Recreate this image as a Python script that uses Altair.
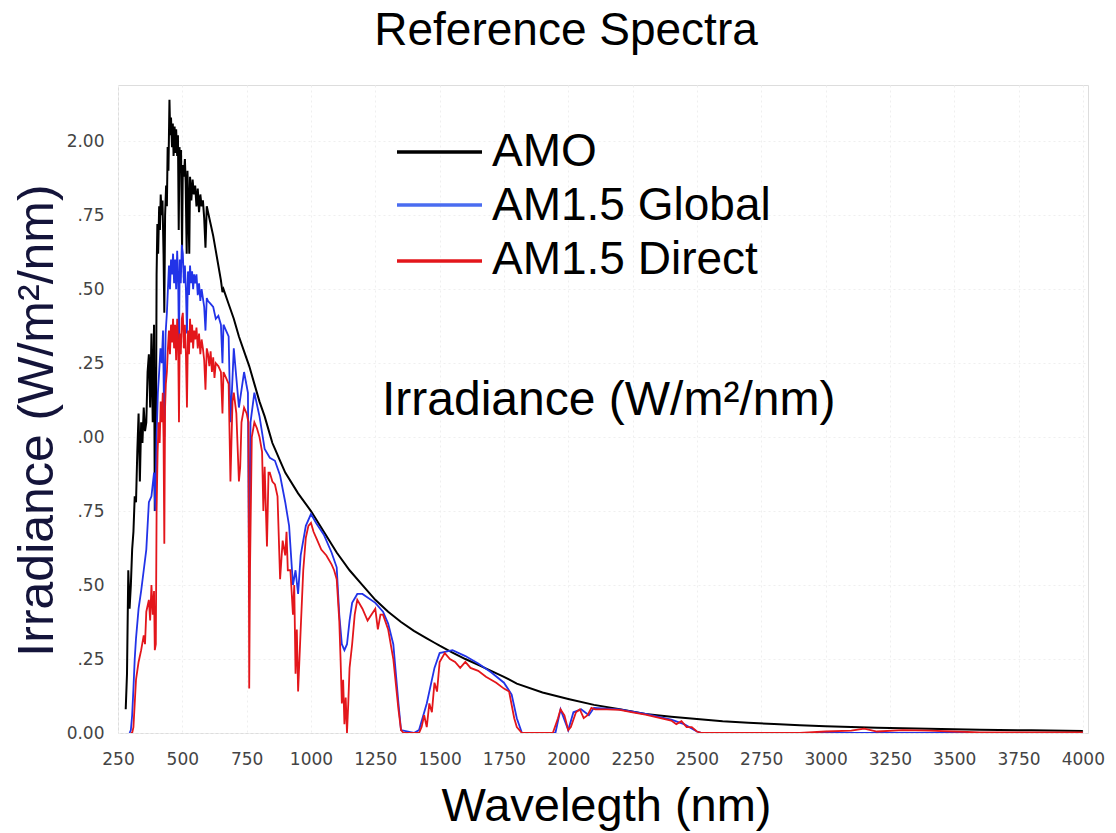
import altair as alt
import pandas as pd

# ---------------- data ----------------
x_ticks = [250, 500, 750, 1000, 1250, 1500, 1750, 2000, 2250, 2500,
           2750, 3000, 3250, 3500, 3750, 4000]
y_ticks = [0, 0.25, 0.5, 0.75, 1.0, 1.25, 1.5, 1.75, 2.0]

series_names = ["AMO", "AM1.5 Global", "AM1.5 Direct"]
series_colors = ["#000000", "#2233e8", "#e3161b"]
legend_colors = ["#000000", "#4a6cf0", "#e3161b"]

# AM0 (extraterrestrial)
wl_am0 = [280, 285, 290, 295, 300, 305, 310, 315, 320, 325, 330, 335, 340, 345,
          350, 355, 360, 365, 370, 375, 380, 385, 390, 393, 397,
          400, 403, 406, 410, 413, 416, 420, 423, 427, 430, 433, 437, 440, 443,
          446, 450, 453, 456, 460, 463, 466, 470, 473, 476, 480, 483, 486, 489,
          492, 495, 499, 502, 506, 510, 513, 517, 520, 523, 527, 530, 535, 540,
          545, 550, 555, 560, 565, 570, 575, 580, 585, 590, 595, 600, 610, 620,
          630, 640, 650, 656, 660, 680, 700, 720, 740, 760, 780, 800, 820, 840,
          850, 860, 880, 900, 950, 1000, 1050, 1100, 1150, 1200, 1250, 1300,
          1350, 1400, 1450, 1480, 1500, 1550, 1600, 1650, 1700, 1750, 1800,
          1900, 2000, 2100, 2200, 2300, 2400, 2500, 2600, 2700, 2800, 2900,
          3000, 3200, 3400, 3600, 3800, 4000]
am0 = [0.08, 0.20, 0.55, 0.42, 0.50, 0.62, 0.68, 0.80, 0.78, 0.95, 1.08, 0.85,
       1.05, 0.98, 1.10, 1.02, 1.05, 1.22, 1.28, 1.10, 1.35, 1.05, 1.38, 0.75,
       0.90,
       1.55, 1.72, 1.62, 1.78, 1.70, 1.82, 1.75, 1.80, 1.62, 1.42, 1.75, 1.85,
       1.78, 1.98, 1.90, 2.14, 2.02, 2.08, 1.98, 2.06, 1.95, 2.05, 1.96, 2.04,
       1.95, 2.02, 1.70, 1.98, 1.90, 1.97, 1.64, 1.92, 1.88, 1.94, 1.86, 1.62,
       1.90, 1.80, 1.62, 1.88, 1.80, 1.87, 1.82, 1.85, 1.78, 1.84, 1.76, 1.82,
       1.78, 1.80, 1.74, 1.64, 1.78, 1.76, 1.72, 1.68, 1.63, 1.58, 1.53, 1.49,
       1.50, 1.45, 1.40, 1.34, 1.29, 1.24, 1.18, 1.12, 1.07, 1.01, 0.98, 0.96,
       0.92, 0.88, 0.81, 0.75, 0.68, 0.61, 0.55, 0.50, 0.45, 0.41, 0.375,
       0.345, 0.32, 0.305, 0.295, 0.272, 0.25, 0.23, 0.21, 0.19, 0.167, 0.137,
       0.115, 0.095, 0.08, 0.064, 0.055, 0.047, 0.04, 0.035, 0.03, 0.026,
       0.023, 0.018, 0.014, 0.011, 0.009, 0.007]

# AM1.5 Global
wl_glob = [295, 300, 305, 310, 315, 320, 330, 340, 350, 360, 370, 380, 390, 395,
           400, 405, 410, 415, 420, 425, 430, 435,
           440, 444, 448, 452, 456, 460, 464, 468, 472, 476, 480, 484, 487, 490,
           494, 498, 502, 506, 510, 514, 518, 522, 526, 530, 534, 538, 542, 546,
           550, 555, 560, 565, 570, 575, 580, 585, 590, 595, 600, 610, 620, 630,
           640, 650, 656, 660, 670, 680, 687, 690, 700, 720,
           740, 755, 760, 765, 780, 800, 820, 840, 860, 880, 900, 915, 930, 940,
           950, 960, 980, 1000, 1020, 1050, 1080, 1100, 1110, 1120, 1130, 1140,
           1150, 1160, 1180, 1200, 1250, 1280, 1300, 1320, 1340, 1350, 1400,
           1420, 1450, 1480, 1500, 1550, 1600, 1650, 1700, 1750, 1780, 1800,
           1820, 1950, 1970, 2000, 2020, 2050, 2080, 2100, 2200, 2300, 2400,
           2450, 2500, 2520, 4000]
glob = [0.0, 0.01, 0.06, 0.15, 0.25, 0.32, 0.42, 0.48, 0.55, 0.62, 0.78, 0.80,
        0.88, 0.75,
        1.00, 1.15, 1.22, 1.30, 1.25, 1.36, 1.00, 1.35,
        1.42, 1.50, 1.58, 1.50, 1.60, 1.55, 1.62, 1.52, 1.60, 1.50, 1.63, 1.52,
        1.30, 1.60, 1.52, 1.65, 1.62, 1.52, 1.58, 1.50, 1.35, 1.56, 1.48, 1.58,
        1.52, 1.56, 1.50, 1.55, 1.52, 1.55, 1.48, 1.52, 1.46, 1.50, 1.47, 1.44,
        1.36, 1.47, 1.46, 1.45, 1.44, 1.40, 1.41, 1.38, 1.25, 1.38, 1.36, 1.34,
        1.05, 1.10, 1.30, 1.10,
        1.22, 1.15, 0.45, 1.05, 1.15, 1.07, 0.96, 0.93, 0.92, 0.87, 0.78, 0.70,
        0.50, 0.55, 0.47, 0.60, 0.70, 0.74, 0.71, 0.67, 0.61, 0.56, 0.40, 0.30,
        0.28, 0.30, 0.38, 0.44, 0.47, 0.47, 0.44, 0.41, 0.37, 0.30, 0.10, 0.01,
        0.0, 0.01, 0.10, 0.22, 0.27, 0.28, 0.26, 0.235, 0.205, 0.17, 0.13,
        0.05, 0.0, 0.0, 0.08, 0.01, 0.07, 0.08, 0.06, 0.085, 0.08, 0.065,
        0.045, 0.03, 0.005, 0.0, 0.0]

# AM1.5 Direct
wl_dir = [300, 305, 310, 315, 320, 330, 340, 350, 355, 360, 370, 375, 380, 385,
          390, 393, 397, 400, 404, 408, 412, 416, 420, 424, 427, 430, 433, 436,
          440, 444, 448, 452, 456, 460, 464, 468, 472, 476, 480, 484, 487, 490,
          494, 498, 502, 506, 510, 514, 518, 522, 526, 530, 534, 538, 542, 546,
          550, 555, 560, 565, 570, 575, 580, 585, 590, 595, 600, 605, 610, 615,
          620, 625, 630, 640, 650, 656, 660, 670, 680, 687, 690, 695, 700, 710,
          720, 725, 730, 740, 750, 757, 760, 763, 770, 780, 790, 800, 810, 815,
          820, 829, 835, 840, 850, 860, 870, 880, 890, 900, 905, 910, 920, 930,
          935, 940, 945, 950, 960, 970, 980, 990, 1000, 1010, 1020, 1040, 1060,
          1080, 1090, 1100, 1110, 1115, 1120, 1125, 1130, 1135, 1140, 1145,
          1150, 1160, 1170, 1180, 1200, 1220, 1250, 1260, 1270, 1280, 1300,
          1320, 1340, 1350, 1360, 1420, 1430, 1440, 1450, 1460, 1470, 1480,
          1490, 1500, 1520, 1540, 1560, 1580, 1600, 1620, 1650, 1680, 1700,
          1720, 1750, 1770, 1790, 1800, 1820, 1940, 1960, 1970, 1985, 2000,
          2010, 2030, 2045, 2060, 2075, 2090, 2105, 2150, 2200, 2250, 2300,
          2350, 2400, 2420, 2440, 2460, 2480, 2500, 2520, 2900, 3000, 3100,
          3150, 3200, 3300, 3400, 3500, 3600, 4000]
direct = [0.0, 0.0, 0.02, 0.10, 0.18, 0.24, 0.28, 0.33, 0.30, 0.41, 0.45, 0.38,
          0.50, 0.40, 0.48, 0.28, 0.30, 0.75, 0.95, 1.05, 0.98, 1.12, 1.05,
          1.15, 1.00, 0.64, 1.10, 1.18,
          1.22, 1.30, 1.36, 1.28, 1.38, 1.32, 1.40, 1.30, 1.38, 1.26, 1.40,
          1.30, 1.05, 1.35, 1.28, 1.40, 1.42, 1.30, 1.38, 1.28, 1.10, 1.36,
          1.28, 1.40, 1.32, 1.38, 1.30, 1.36, 1.33, 1.37, 1.30, 1.35, 1.28,
          1.33, 1.30, 1.26, 1.16, 1.30, 1.28, 1.24, 1.29, 1.22, 1.27, 1.20,
          1.25, 1.24, 1.22, 1.08, 1.22, 1.20, 1.18, 0.85, 0.95, 1.12, 1.15,
          1.08, 0.85, 0.90, 1.05, 1.10, 1.08, 1.05, 0.15, 0.55, 1.00, 1.05,
          1.03, 1.00, 0.95, 0.75, 0.90, 0.63, 0.88, 0.88, 0.85, 0.84, 0.80,
          0.52, 0.65, 0.60, 0.68, 0.55, 0.55, 0.40, 0.50, 0.20, 0.35, 0.14,
          0.35, 0.55, 0.66, 0.70, 0.71, 0.68, 0.66, 0.62, 0.60, 0.57, 0.55,
          0.52, 0.38, 0.25, 0.10, 0.18, 0.03, 0.12, 0.0, 0.10, 0.22, 0.30,
          0.40, 0.45, 0.42, 0.38, 0.42, 0.35, 0.40, 0.40, 0.35, 0.25, 0.08,
          0.01, 0.0, 0.0, 0.02, 0.06, 0.02, 0.10, 0.07, 0.17, 0.14, 0.24,
          0.27, 0.25, 0.24, 0.22, 0.24, 0.22, 0.21, 0.19, 0.18, 0.17, 0.15,
          0.14, 0.05, 0.02, 0.0, 0.0, 0.05, 0.08, 0.06, 0.01, 0.02, 0.07,
          0.08, 0.05, 0.06, 0.085, 0.08, 0.08, 0.078, 0.07, 0.062, 0.052,
          0.042, 0.03, 0.04, 0.02, 0.02, 0.005, 0.0, 0.0, 0.005, 0.008, 0.015,
          0.005, 0.01, 0.008, 0.005, 0.002, 0.002]

# ---------------- chart ----------------
FONT = "Liberation Sans"

def frame(wl, vals, name):
    return pd.DataFrame({"wavelength": wl, "irradiance": vals, "series": name})

x_enc = alt.X(
    "wavelength:Q",
    scale=alt.Scale(domain=[250, 4020], nice=False, zero=False),
    axis=alt.Axis(
        values=x_ticks, format="d", title="Wavelegth (nm)", ticks=False,
        domain=False,
        labelFont="DejaVu Sans", labelFontSize=17, labelColor="#444444",
        labelPadding=18, labelFlush=False,
        titleFont=FONT, titleFontSize=47, titleFontWeight="normal",
        titleColor="#000000", titleX=488, titleY=87,
        titleBaseline="alphabetic", titleAlign="center",
        grid=True, gridColor="#efefef", gridDash=[2, 3],
    ),
)
y_enc = alt.Y(
    "irradiance:Q",
    scale=alt.Scale(domain=[0, 2.19], nice=False, zero=True),
    axis=alt.Axis(
        values=y_ticks, title="Irradiance (W/m²/nm)", ticks=False, domain=False,
        labelFont="DejaVu Sans", labelFontSize=17, labelColor="#444444",
        labelPadding=14,
        labelExpr="datum.value == 0 || datum.value == 2 ? format(datum.value, '.2f') : slice(format(datum.value, '.2f'), 1)",
        titleFont=FONT, titleFontSize=50, titleFontWeight="normal",
        titleColor="#14143a", titleAngle=270, titleX=-66, titleY=335,
        titleBaseline="alphabetic", titleAlign="center",
        grid=True, gridColor="#efefef", gridDash=[2, 3],
    ),
)

layers = []
for wl, vals, name, col, sw in [
        (wl_am0, am0, series_names[0], series_colors[0], 2.0),
        (wl_glob, glob, series_names[1], series_colors[1], 1.8),
        (wl_dir, direct, series_names[2], series_colors[2], 1.8)]:
    layers.append(
        alt.Chart(frame(wl, vals, name))
        .mark_line(color=col, strokeWidth=sw, clip=True)
        .encode(x=x_enc, y=y_enc, order="wavelength:Q")
    )

one = pd.DataFrame({"k": [0]})

# chart title (as text above the plot area)
layers.append(
    alt.Chart(one).mark_text(text="Reference Spectra", font=FONT, fontSize=46,
                             align="center", baseline="alphabetic",
                             color="#000000")
    .encode(x=alt.value(448), y=alt.value(-40))
)

# manual legend inside the plot
leg_y_line = [67, 120, 176]
leg_y_text = [81, 135, 189]
for i, name in enumerate(series_names):
    layers.append(
        alt.Chart(one).mark_rule(color=legend_colors[i], strokeWidth=3.5)
        .encode(x=alt.value(279), x2=alt.value(364), y=alt.value(leg_y_line[i]))
    )
    layers.append(
        alt.Chart(one).mark_text(text=name, font=FONT, fontSize=46, align="left",
                                 baseline="alphabetic", color="#000000")
        .encode(x=alt.value(374), y=alt.value(leg_y_text[i]))
    )

# annotation in the plot
layers.append(
    alt.Chart(one).mark_text(text="Irradiance (W/m²/nm)", font=FONT, fontSize=48,
                             align="left", baseline="alphabetic", color="#000000")
    .encode(x=alt.value(264), y=alt.value(330))
)

chart = (
    alt.layer(*layers)
    .properties(
        width=970, height=648,
        padding={"left": 118, "top": 85, "right": 28, "bottom": 100},
        autosize=alt.AutoSizeParams(type="none"),
    )
    .configure_view(stroke="#b0b0b0", strokeWidth=1.5)
    .configure(background="#ffffff")
)

chart.save("out.html", embed_options={"renderer": "svg", "actions": False})
